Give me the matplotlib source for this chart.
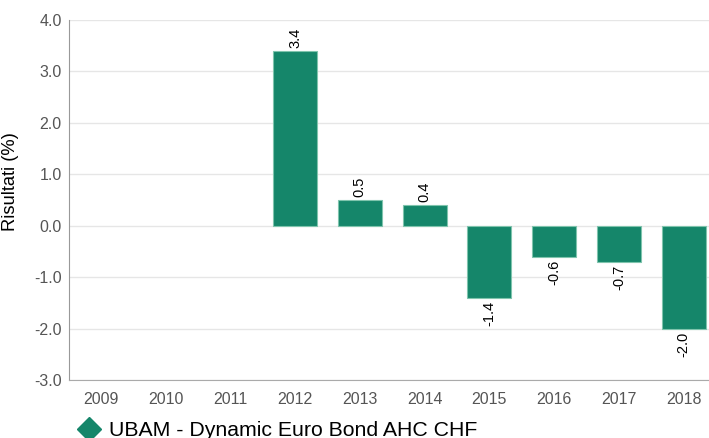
import matplotlib
matplotlib.use("Agg")
import matplotlib.pyplot as plt
from matplotlib.lines import Line2D

# Annual returns
YEARS = ["2009", "2010", "2011", "2012", "2013", "2014", "2015", "2016", "2017", "2018"]
RETURNS = [None, None, None, 3.4, 0.5, 0.4, -1.4, -0.6, -0.7, -2.0]
SERIES = "UBAM - Dynamic Euro Bond AHC CHF"
YTICKS = [4.0, 3.0, 2.0, 1.0, 0.0, -1.0, -2.0, -3.0]

GREEN = "#15866a"

plt.rcParams["font.family"] = ["Liberation Sans", "DejaVu Sans"]

fig = plt.figure(figsize=(7.09, 4.38), dpi=100)
ax = fig.add_axes([68.5 / 709, 1 - 380 / 438, 647.5 / 709, 360 / 438])

xs = list(range(len(YEARS)))
for x, v in zip(xs, RETURNS):
    if v is None:
        continue
    ax.bar(x, v, width=0.68, color=GREEN, edgecolor="#7fc4ad", linewidth=0.8, zorder=3)
    if v >= 0:
        ax.annotate(f"{v:.1f}", (x, v), xytext=(0, 2), textcoords="offset points",
                    rotation=90, ha="center", va="bottom", fontsize=10.5, color="black")
    else:
        ax.annotate(f"{v:.1f}", (x, v), xytext=(0, -2), textcoords="offset points",
                    rotation=90, ha="center", va="top", fontsize=10.5, color="black")

ax.set_xlim(-0.5, len(YEARS) - 0.5)
ax.set_ylim(-3.0, 4.0)
ax.set_xticks(xs)
ax.set_xticklabels(YEARS)
ax.set_yticks(YTICKS)
ax.set_yticklabels([f"{t:.1f}" for t in YTICKS])
ax.tick_params(axis="both", length=0, labelsize=11.5, colors="#555555")
ax.tick_params(axis="x", pad=9)
ax.tick_params(axis="y", pad=5)
ax.grid(axis="y", color="#e6e6e6", linewidth=1, zorder=0)
for s in ["top", "right"]:
    ax.spines[s].set_visible(False)
ax.spines["left"].set_color("#999999")
ax.spines["bottom"].set_color("#aaaaaa")
ax.set_ylabel("Risultati (%)", fontsize=13.2, color="black")
ax.yaxis.set_label_coords(-(68.5 - 19.5) / 647.5, (380 - 182) / 360)

handle = Line2D([], [], marker="D", color=GREEN, linestyle="none", markersize=12.5)
fig.legend([handle], [SERIES], loc="center left", bbox_to_anchor=(78 / 709, 1 - 431 / 438),
           frameon=False, fontsize=15.3, handletextpad=0.45, borderaxespad=0, borderpad=0,
           handlelength=1.0)

fig.savefig("out.png", dpi=100)
